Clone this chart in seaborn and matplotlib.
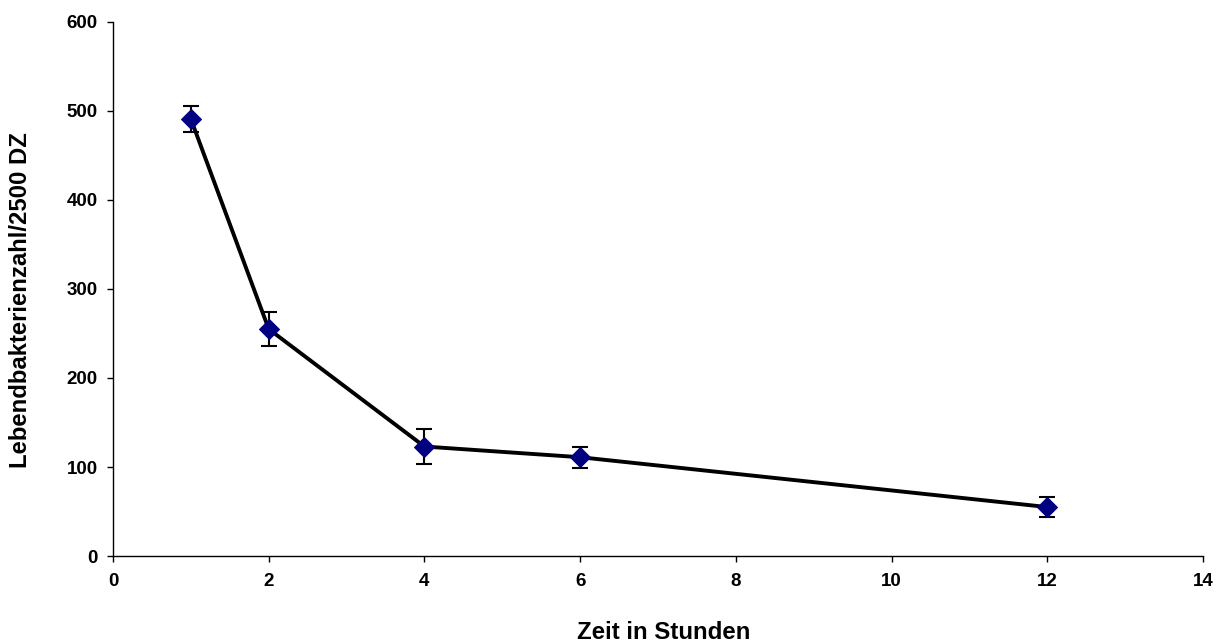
import matplotlib
matplotlib.use("Agg")
import matplotlib.pyplot as plt
import seaborn as sns
import pandas as pd

zeit = [1, 2, 4, 6, 12]
bakterien = [491, 255, 123, 111, 55]
fehler = [15, 19, 20, 12, 11]

sns.set_theme(style="white")
plt.rcParams['font.family'] = ['Liberation Sans', 'DejaVu Sans']
plt.rcParams['font.weight'] = 'bold'
plt.rcParams['text.color'] = 'black'
plt.rcParams['axes.labelcolor'] = 'black'
plt.rcParams['xtick.color'] = 'black'
plt.rcParams['ytick.color'] = 'black'

df = pd.DataFrame({"Zeit": zeit, "Wert": bakterien, "Fehler": fehler})

fig = plt.figure(figsize=(12.23, 6.43), dpi=100)
ax = fig.add_axes([0.0924, 0.1353, 0.8912, 0.8305])

ax.errorbar(df["Zeit"], df["Wert"], yerr=df["Fehler"], fmt='none', ecolor='black',
            elinewidth=1.5, capsize=5.5, capthick=1.5, zorder=2)
sns.lineplot(data=df, x="Zeit", y="Wert", ax=ax, color='black', linewidth=2.8,
             marker='D', markersize=10, markerfacecolor='#000080',
             markeredgecolor='#000080', zorder=3)

ax.set_xlim(0, 14)
ax.set_ylim(0, 600)
ax.set_xticks(range(0, 15, 2))
ax.set_yticks(range(0, 601, 100))
for s in ['top', 'right']:
    ax.spines[s].set_visible(False)
for s in ['left', 'bottom']:
    ax.spines[s].set_color('black')
    ax.spines[s].set_linewidth(1.0)
ax.tick_params(axis='both', which='major', direction='out', length=4.5, width=1,
               colors='black', labelsize=13.5, bottom=True, left=True)
ax.tick_params(axis='x', pad=8)
ax.tick_params(axis='y', pad=6.5)
for lab in ax.get_xticklabels() + ax.get_yticklabels():
    lab.set_fontweight('bold')
ax.set_xlabel("Zeit in Stunden", fontsize=17.3, fontweight='bold', color='black')
ax.set_ylabel("Lebendbakterienzahl/2500 DZ", fontsize=17.2, fontweight='bold', color='black')
ax.xaxis.set_label_coords(0.5055, -0.122)
ax.yaxis.set_label_coords(-0.0745, 0.479)
ax.grid(False)

fig.savefig("out.png", dpi=100)
